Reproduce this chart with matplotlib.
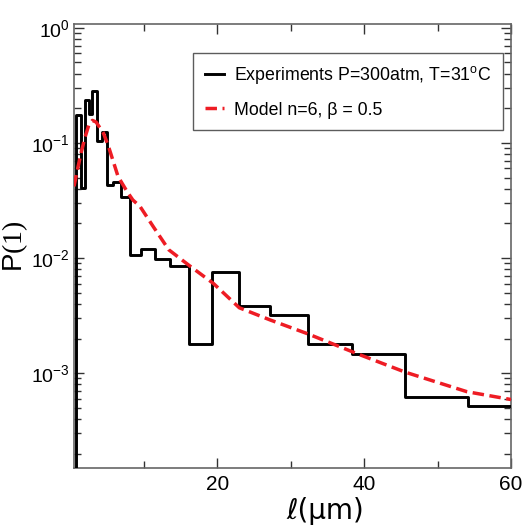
import matplotlib
matplotlib.use("Agg")
import matplotlib.pyplot as plt
from matplotlib.ticker import FixedLocator, LogLocator, NullFormatter

plt.rcParams['font.family'] = ['Liberation Sans', 'DejaVu Sans']
plt.rcParams['mathtext.fontset'] = 'custom'
plt.rcParams['mathtext.rm'] = 'Liberation Serif'
plt.rcParams['mathtext.default'] = 'regular'

# Experimental histogram (bin edges in µm, probability per bin)
bin_edges = [0.82, 1.5, 1.95, 2.54, 3.0, 3.58, 4.26, 4.94, 5.85, 6.9, 8.15, 9.6,
             11.5, 13.5, 16.2, 19.3, 22.9, 27.2, 32.3, 38.3, 45.5, 54.1, 60]
exp_values = [0.175, 0.041, 0.237, 0.18, 0.28, 0.103, 0.125, 0.043, 0.046, 0.034,
              0.0106, 0.0119, 0.0099, 0.0085, 0.00179, 0.0076, 0.00383, 0.00319,
              0.00179, 0.00148, 0.00062, 0.00052]

# Model curve
model_x = [0.5, 1.0, 1.5, 2.0, 2.5, 3.0, 3.5, 4.5, 5.2, 6.5, 7.7, 8.5, 9.5, 11.3,
           13.4, 16.2, 19.5, 23.0, 27.2, 32.3, 39.0, 45.6, 54.0, 60.0]
model_y = [0.042, 0.06, 0.084, 0.112, 0.142, 0.157, 0.152, 0.122, 0.093, 0.051,
           0.038, 0.032, 0.028, 0.0187, 0.0118, 0.0086, 0.006, 0.0037, 0.0029,
           0.0022, 0.00148, 0.00102, 0.00069, 0.00059]

fig = plt.figure(figsize=(5.22, 5.32), dpi=100)
ax = fig.add_axes([0.1418, 0.1203, 0.979 - 0.1418, 0.9549 - 0.1203])

step_x = [bin_edges[0]] + bin_edges
step_y = [0.0] + exp_values + [exp_values[-1]]
ax.step(step_x, step_y, where='post', color='black', lw=2.1,
        label='Experiments P=300atm, T=31$^{o}$C', zorder=3)
ax.plot(model_x, model_y, color='#ee1c24', lw=2.5, ls=(0, (3.3, 1.6)),
        label='Model n=6, β = 0.5', zorder=4)

ax.set_yscale('log')
ax.set_xlim(0.5, 60)
ax.set_ylim(1.5e-4, 1.08)

ax.xaxis.set_major_locator(FixedLocator([20, 40, 60]))
ax.xaxis.set_minor_locator(FixedLocator([10, 30, 50]))
ax.yaxis.set_major_locator(LogLocator(base=10, numticks=10))
ax.yaxis.set_minor_locator(LogLocator(base=10, subs=range(2, 10), numticks=10))
ax.yaxis.set_minor_formatter(NullFormatter())

ax.tick_params(which='both', direction='in', top=True, right=True,
               color='#333333')
ax.tick_params(axis='x', labelsize=15, pad=5)
ax.tick_params(axis='y', labelsize=14, pad=3)
ax.tick_params(which='major', length=7, width=1)
ax.tick_params(which='minor', length=5, width=1)
for s in ax.spines.values():
    s.set_color('#666666')
    s.set_linewidth(1.2)

ax.set_xlabel('ℓ(μm)', fontsize=20, family=['DejaVu Sans'])
ax.xaxis.set_label_coords(0.574, -0.065, transform=ax.transAxes)
ax.xaxis.label.set_va('top')
ax.set_ylabel(r'P$\mathrm{(1)}$', fontsize=20)
ax.yaxis.set_label_coords(-0.10, 0.50, transform=ax.transAxes)

leg = ax.legend(loc='upper right', bbox_to_anchor=(0.982, 0.935), fontsize=12.8,
                frameon=True, fancybox=False, handlelength=1.1,
                handletextpad=0.55, borderpad=0.65, labelspacing=0.85,
                borderaxespad=0)
leg.get_frame().set_edgecolor('#333333')
leg.get_frame().set_linewidth(1.0)

fig.savefig('out.png', dpi=100)
